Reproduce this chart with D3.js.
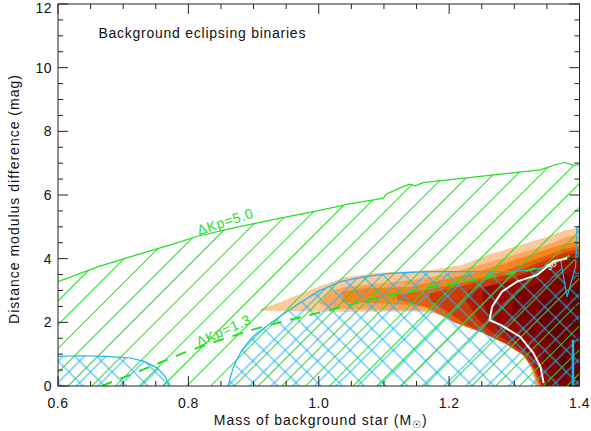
<!DOCTYPE html>
<html>
<head>
<meta charset="utf-8">
<script src="https://cdn.jsdelivr.net/npm/d3@7"></script>
<style>
  body { margin: 0; background: #fff; }
  text { font-family: "Liberation Sans", "DejaVu Sans", sans-serif; fill: #111; }
</style>
</head>
<body>
<div id="chart"></div>
<script>
// axis ticks
const xMajorTicks = [0.6, 0.8, 1.0, 1.2, 1.4];
const xMinorTicks = [0.65, 0.7, 0.75, 0.85, 0.9, 0.95, 1.05, 1.1, 1.15, 1.25, 1.3, 1.35];
const yMajorTicks = [0, 2, 4, 6, 8, 10, 12];
const yMinorTicks = [0.5, 1, 1.5, 2.5, 3, 3.5, 4.5, 5, 5.5, 6.5, 7, 7.5, 8.5, 9, 9.5, 10.5, 11, 11.5];

// dKp = 5.0 limit (upper edge of green hatched area)
const kp50Line = [[0.6,3.28],[0.662,3.75],[0.713,4.07],[0.767,4.4],[0.817,4.72],[0.861,4.93],[0.91,5.14],
  [0.953,5.32],[1.0,5.51],[1.047,5.72],[1.091,5.87],[1.099,5.9],[1.104,6.03],[1.13,6.27],[1.14,6.34],
  [1.148,6.29],[1.16,6.39],[1.34,6.79],[1.363,6.95],[1.378,7.02],[1.391,6.93],[1.4,6.95]];

// dKp = 1.3 limit (dashed)
const kp13Line = [[0.667,0],[0.711,0.35],[0.767,0.82],[0.8,1.1],[0.85,1.45],[0.9,1.78],[0.95,2.05],
  [1.0,2.3],[1.08,2.72],[1.16,3.06],[1.25,3.38],[1.32,3.63],[1.36,3.85],[1.385,4.1]];

// blue (cross hatched) regions
const blueRegionA = [[0.6,0.93],[0.634,0.95],[0.675,0.93],[0.711,0.88],[0.731,0.78],[0.752,0.57],[0.764,0.3],[0.772,0]];
const blueRegionB = [[0.861,0],[0.869,0.6],[0.882,1.13],[0.899,1.55],[0.926,1.97],[0.951,2.33],[0.972,2.62],
  [1.0,2.98],[1.033,3.28],[1.069,3.43],[1.11,3.54],[1.166,3.59],[1.289,3.59],[1.325,3.64],[1.35,3.75],
  [1.371,3.96],[1.381,2.8],[1.394,3.75],[1.396,5.0],[1.4,5.0]];
const blueBar = [[1.39,0],[1.39,1.45]];

// white contour and its label
const whiteContour = [[1.381,4.01],[1.36,3.91],[1.335,3.49],[1.304,3.28],[1.281,2.96],[1.266,2.49],[1.262,2.07],
  [1.279,1.92],[1.309,1.55],[1.329,1.04],[1.34,0.61],[1.345,0.09]];

// filled density levels, outermost first
const heatColors = ["#fcc99c", "#fba65f", "#f7861c", "#e6600a", "#cc3a06", "#b01c02", "#960800", "#7c0000", "#650000"];
const heat1 = [[0.91,2.42],[0.94,2.62],[0.99,3.05],[1.04,3.42],[1.09,3.56],[1.17,3.64],[1.22,3.8],[1.26,4.12],
  [1.31,4.43],[1.35,4.69],[1.38,4.9],[1.4,4.97],[1.4,0],[1.333,0],[1.329,0.29],[1.32,0.82],[1.304,1.23],
  [1.279,1.6],[1.248,1.92],[1.207,2.18],[1.156,2.34],[1.09,2.33],[1.0,2.33],[0.94,2.36],[0.91,2.36]];
const heat2 = [[1.0,2.6],[1.018,3.0],[1.043,3.12],[1.094,3.23],[1.156,3.36],[1.2,3.55],[1.258,3.86],[1.309,4.17],
  [1.35,4.43],[1.381,4.69],[1.4,4.75],[1.4,0],[1.335,0],[1.325,0.71],[1.309,1.13],[1.284,1.5],[1.248,1.81],
  [1.207,2.1],[1.17,2.37],[1.094,2.39],[1.018,2.44]];
const heat3 = [[1.036,2.62],[1.036,2.96],[1.069,3.07],[1.146,3.12],[1.156,3.2],[1.233,3.52],[1.284,3.84],
  [1.335,4.2],[1.376,4.46],[1.4,4.56],[1.4,0],[1.337,0],[1.327,0.61],[1.312,1.03],[1.286,1.39],[1.248,1.74],
  [1.207,2.02],[1.161,2.49],[1.094,2.6]];
const heat4 = [[1.12,2.72],[1.12,2.86],[1.16,3.0],[1.233,3.3],[1.284,3.6],[1.335,4.0],[1.376,4.3],[1.4,4.4],
  [1.4,0],[1.339,0],[1.328,0.55],[1.313,0.97],[1.287,1.32],[1.25,1.68],[1.21,1.98],[1.17,2.45]];
const heat5 = [[1.17,2.7],[1.17,2.9],[1.2,3.05],[1.25,3.3],[1.3,3.55],[1.34,3.9],[1.38,4.2],[1.4,4.3],[1.4,0],
  [1.341,0],[1.331,0.5],[1.316,0.95],[1.29,1.3],[1.255,1.64],[1.225,1.95],[1.2,2.3]];
const heat6 = [[1.225,2.7],[1.23,3.02],[1.26,3.15],[1.3,3.4],[1.34,3.75],[1.38,4.1],[1.4,4.2],[1.4,0],[1.343,0],
  [1.333,0.5],[1.32,0.95],[1.295,1.35],[1.265,1.7],[1.245,2.1]];
const heat7 = [[1.25,2.8],[1.255,3.1],[1.3,3.3],[1.34,3.62],[1.38,3.95],[1.4,4.0],[1.4,0],[1.347,0],[1.337,0.5],
  [1.325,0.95],[1.3,1.4],[1.275,1.8],[1.258,2.3]];
const heat8 = [[1.3,2.9],[1.34,3.25],[1.38,3.55],[1.4,3.6],[1.4,0],[1.36,0],[1.35,0.5],[1.337,1.2],[1.315,1.8],[1.295,2.3]];
const heat9 = [[1.34,2.7],[1.38,3.0],[1.4,3.1],[1.4,0.1],[1.375,0.5],[1.355,1.3],[1.34,2.0]];
const heatLevels = [heat1, heat2, heat3, heat4, heat5, heat6, heat7, heat8, heat9];

const greenColor = "#22e022";
const blueColor = "#20b4f0";

const W = 591, H = 431;
const margin = {top: 4, right: 11.5, bottom: 45, left: 58};
const width = W - margin.left - margin.right;
const height = H - margin.top - margin.bottom;

const svg = d3.select("#chart").append("svg")
    .attr("width", W)
    .attr("height", H);

const defs = svg.append("defs");

defs.append("clipPath").attr("id", "plotClip")
    .append("rect").attr("width", width).attr("height", height);

function hatch(id, color, gap, angle) {
    let p = defs.append("pattern")
        .attr("id", id)
        .attr("patternUnits", "userSpaceOnUse")
        .attr("width", gap)
        .attr("height", gap)
        .attr("patternTransform", `rotate(${angle})`);
    p.append("line")
        .attr("x1", gap / 2).attr("x2", gap / 2)
        .attr("y1", -1).attr("y2", gap + 1)
        .attr("stroke", color)
        .attr("stroke-width", 1);
}
hatch("hatchGreen", greenColor, 16.8, 45);
hatch("hatchBlueA", blueColor, 15.3, 45);
hatch("hatchBlueB", blueColor, 15.3, -45);

const x = d3.scaleLinear().domain([0.6, 1.4]).range([0, width]);
const y = d3.scaleLinear().domain([0, 12]).range([height, 0]);

const line = d3.line().x(d => x(d[0])).y(d => y(d[1]));
const poly = pts => line(pts) + "Z";

const g = svg.append("g").attr("transform", `translate(${margin.left},${margin.top})`);
const plot = g.append("g").attr("clip-path", "url(#plotClip)");

// density
plot.selectAll(".heat")
    .data(heatLevels)
    .enter().append("path")
    .attr("class", "heat")
    .attr("d", poly)
    .attr("fill", (d, i) => heatColors[i]);

// blue cross hatch
const blueRegions = [blueRegionA.concat([[0.6, 0]]), blueRegionB.concat([[1.4, 0]])];
["hatchBlueA", "hatchBlueB"].forEach(id => {
    plot.selectAll(".blue-" + id)
        .data(blueRegions)
        .enter().append("path")
        .attr("d", poly)
        .attr("fill", `url(#${id})`);
});

// green hatch
plot.append("path")
    .attr("d", poly(kp50Line.concat([[1.4, 0], [0.6, 0]])))
    .attr("fill", "url(#hatchGreen)");

// outlines
plot.selectAll(".blue-edge")
    .data([blueRegionA, blueRegionB])
    .enter().append("path")
    .attr("d", line)
    .attr("fill", "none")
    .attr("stroke", blueColor)
    .attr("stroke-width", 1.2);

plot.append("path")
    .attr("d", line(blueBar))
    .attr("stroke", blueColor)
    .attr("stroke-width", 2.5);

plot.append("path")
    .attr("d", line(kp50Line))
    .attr("fill", "none")
    .attr("stroke", greenColor)
    .attr("stroke-width", 1.2);

plot.append("path")
    .attr("d", line(kp13Line))
    .attr("fill", "none")
    .attr("stroke", greenColor)
    .attr("stroke-width", 2)
    .attr("stroke-dasharray", "11,9");

plot.append("path")
    .attr("d", line(whiteContour))
    .attr("fill", "none")
    .attr("stroke", "#fff")
    .attr("stroke-width", 2);

// labels inside plot
g.append("text")
    .attr("transform", `translate(${x(0.859)},${y(5.02)}) rotate(-18)`)
    .attr("text-anchor", "middle")
    .style("fill", greenColor)
    .style("font-size", "14px")
    .style("letter-spacing", "0.6px")
    .text("ΔKp=5.0");

g.append("text")
    .attr("transform", `translate(${x(0.857)},${y(1.6)}) rotate(-24)`)
    .attr("text-anchor", "middle")
    .style("fill", greenColor)
    .style("font-size", "14px")
    .style("letter-spacing", "0.6px")
    .text("ΔKp=1.3");

g.append("text")
    .attr("transform", `translate(${x(1.36)},${y(3.72)}) rotate(-38)`)
    .attr("text-anchor", "middle")
    .style("fill", "#fff")
    .style("font-size", "9px")
    .text("3σ");

g.append("text")
    .attr("x", x(0.662))
    .attr("y", y(10.94))
    .style("font-size", "14px")
    .style("letter-spacing", "0.75px")
    .text("Background eclipsing binaries");

// frame and ticks
g.append("rect")
    .attr("width", width).attr("height", height)
    .attr("fill", "none")
    .attr("stroke", "#222")
    .attr("stroke-width", 1);

function ticks(vals, len) {
    vals.forEach(v => {
        [[x(v), height, x(v), height - len], [x(v), 0, x(v), len]].forEach(c => {
            g.append("line").attr("x1", c[0]).attr("y1", c[1]).attr("x2", c[2]).attr("y2", c[3])
                .attr("stroke", "#222");
        });
    });
}
function yticks(vals, len) {
    vals.forEach(v => {
        [[0, y(v), len, y(v)], [width, y(v), width - len, y(v)]].forEach(c => {
            g.append("line").attr("x1", c[0]).attr("y1", c[1]).attr("x2", c[2]).attr("y2", c[3])
                .attr("stroke", "#222");
        });
    });
}
ticks(xMajorTicks, 10);
ticks(xMinorTicks, 5);
yticks(yMajorTicks, 10);
yticks(yMinorTicks, 5);

g.selectAll(".xlab")
    .data(xMajorTicks)
    .enter().append("text")
    .attr("x", d => x(d))
    .attr("y", height + 22)
    .attr("text-anchor", "middle")
    .style("font-size", "14px")
    .style("letter-spacing", "0.5px")
    .text(d => d.toFixed(1));

g.selectAll(".ylab")
    .data(yMajorTicks)
    .enter().append("text")
    .attr("x", -6)
    .attr("y", d => Math.max(y(d), 4) + 5)
    .attr("text-anchor", "end")
    .style("font-size", "14px")
    .style("letter-spacing", "0.5px")
    .text(d => d);

const xTitle = g.append("text")
    .attr("x", width / 2 + 2)
    .attr("y", height + 39)
    .attr("text-anchor", "middle")
    .style("font-size", "14px")
    .style("letter-spacing", "0.95px");
xTitle.append("tspan").text("Mass of background star (M");
xTitle.append("tspan").attr("dy", 3).style("font-size", "10px").text("☉");
xTitle.append("tspan").attr("dy", -3).text(")");

g.append("text")
    .attr("transform", `translate(-39,${height / 2 + 4}) rotate(-90)`)
    .attr("text-anchor", "middle")
    .style("font-size", "14px")
    .style("letter-spacing", "1px")
    .text("Distance modulus difference (mag)");
</script>
</body>
</html>
